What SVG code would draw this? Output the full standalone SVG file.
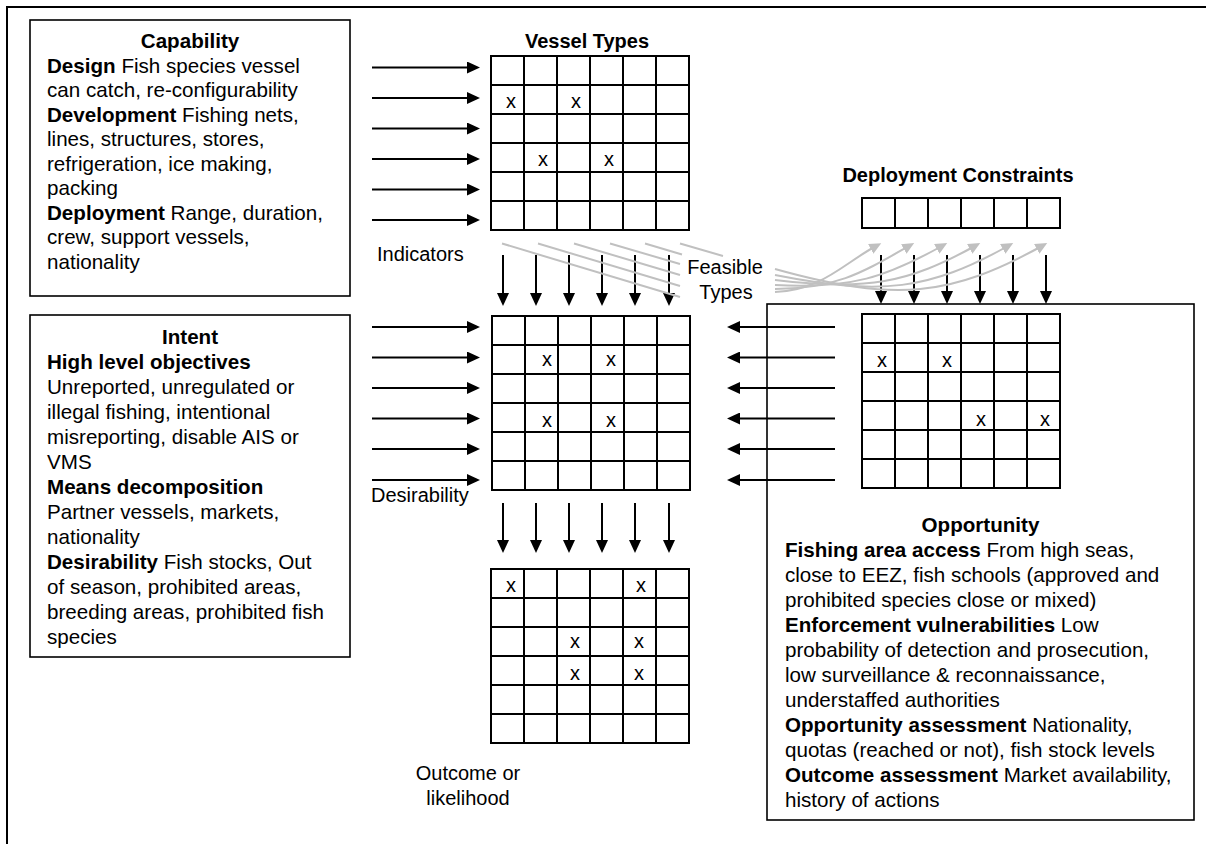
<svg xmlns="http://www.w3.org/2000/svg" width="1206" height="844" viewBox="0 0 1206 844">
<defs>
<style>
text{font-family:"Liberation Sans",Arial,sans-serif;font-size:20px;fill:#000}
.t text{font-size:20.6px}
.b{font-weight:bold}
.c{text-anchor:middle}
.box{fill:#fff;stroke:#000;stroke-width:1.6}
.grid{fill:none;stroke:#000;stroke-width:2}
.arr{fill:none;stroke:#000;stroke-width:2;marker-end:url(#ah)}
.gr{fill:none;stroke:#c0c0c0;stroke-width:2;marker-end:url(#gh)}
</style>
<marker id="ah" markerUnits="userSpaceOnUse" markerWidth="14" markerHeight="12" refX="6" refY="6" orient="auto"><path d="M0,0 L13,6 L0,12 z" fill="#000"/></marker>
<marker id="gh" markerUnits="userSpaceOnUse" markerWidth="13" markerHeight="12" refX="6" refY="5.5" orient="auto"><path d="M0,0 L12,5.5 L0,11 z" fill="#c0c0c0"/></marker>
</defs>
<rect x="7" y="7" width="1230" height="870" fill="none" stroke="#000" stroke-width="2"/>

<g id="capability" class="t">
<rect class="box" x="30" y="20" width="320" height="276"/>
<text class="b c" x="190" y="48">Capability</text>
<text x="47" y="72.5"><tspan class="b">Design</tspan> Fish species vessel</text>
<text x="47" y="97">can catch, re-configurability</text>
<text x="47" y="121.5"><tspan class="b">Development</tspan> Fishing nets,</text>
<text x="47" y="146">lines, structures, stores,</text>
<text x="47" y="170.5">refrigeration, ice making,</text>
<text x="47" y="195">packing</text>
<text x="47" y="219.5"><tspan class="b">Deployment</tspan> Range, duration,</text>
<text x="47" y="244">crew, support vessels,</text>
<text x="47" y="268.5">nationality</text>
</g>

<g id="intent" class="t">
<rect class="box" x="30" y="315" width="320" height="342"/>
<text class="b c" x="190" y="344">Intent</text>
<text class="b" x="47" y="369">High level objectives</text>
<text x="47" y="394">Unreported, unregulated or</text>
<text x="47" y="419">illegal fishing, intentional</text>
<text x="47" y="444">misreporting, disable AIS or</text>
<text x="47" y="469">VMS</text>
<text class="b" x="47" y="494">Means decomposition</text>
<text x="47" y="519">Partner vessels, markets,</text>
<text x="47" y="544">nationality</text>
<text x="47" y="569"><tspan class="b">Desirability</tspan> Fish stocks, Out</text>
<text x="47" y="594">of season, prohibited areas,</text>
<text x="47" y="619">breeding areas, prohibited fish</text>
<text x="47" y="644">species</text>
</g>

<g id="opportunity" class="t">
<rect class="box" x="767" y="304" width="427" height="516"/>
<text class="b c" x="980.5" y="532">Opportunity</text>
<text x="785" y="557"><tspan class="b">Fishing area access</tspan> From high seas,</text>
<text x="785" y="582">close to EEZ, fish schools (approved and</text>
<text x="785" y="607">prohibited species close or mixed)</text>
<text x="785" y="632"><tspan class="b">Enforcement vulnerabilities</tspan> Low</text>
<text x="785" y="657">probability of detection and prosecution,</text>
<text x="785" y="682">low surveillance &amp; reconnaissance,</text>
<text x="785" y="707">understaffed authorities</text>
<text x="785" y="732"><tspan class="b">Opportunity assessment</tspan> Nationality,</text>
<text x="785" y="757">quotas (reached or not), fish stock levels</text>
<text x="785" y="782"><tspan class="b">Outcome assessment</tspan> Market availability,</text>
<text x="785" y="807">history of actions</text>
</g>

<g id="vessel-types">
<text class="b c" x="587" y="48">Vessel Types</text>
<rect class="grid" x="491" y="56" width="198" height="174"/>
<path class="grid" d="M524,56V230M557,56V230M590,56V230M623,56V230M656,56V230M491,85H689M491,114H689M491,143H689M491,172H689M491,201H689"/>
<text class="c" x="511" y="108">x</text>
<text class="c" x="576" y="108">x</text>
<text class="c" x="543" y="166">x</text>
<text class="c" x="609" y="166">x</text>
</g>

<g id="desirability-grid">
<rect class="grid" x="492" y="316" width="198" height="174"/>
<path class="grid" d="M525,316V490M558,316V490M591,316V490M624,316V490M657,316V490M492,345H690M492,374H690M492,403H690M492,432H690M492,461H690"/>
<text class="c" x="547" y="366">x</text>
<text class="c" x="611" y="366">x</text>
<text class="c" x="547" y="427">x</text>
<text class="c" x="611" y="427">x</text>
</g>

<g id="outcome-grid">
<rect class="grid" x="491" y="569" width="198" height="174"/>
<path class="grid" d="M524,569V743M557,569V743M590,569V743M623,569V743M656,569V743M491,598H689M491,627H689M491,656H689M491,685H689M491,714H689"/>
<text class="c" x="511" y="592">x</text>
<text class="c" x="641" y="592">x</text>
<text class="c" x="575" y="648">x</text>
<text class="c" x="639" y="648">x</text>
<text class="c" x="575" y="680">x</text>
<text class="c" x="639" y="680">x</text>
</g>

<g id="opportunity-grid">
<rect class="grid" x="862" y="314" width="198" height="174"/>
<path class="grid" d="M895,314V488M928,314V488M961,314V488M994,314V488M1027,314V488M862,343H1060M862,372H1060M862,401H1060M862,430H1060M862,459H1060"/>
<text class="c" x="882" y="367">x</text>
<text class="c" x="947" y="367">x</text>
<text class="c" x="981" y="426">x</text>
<text class="c" x="1045" y="426">x</text>
</g>

<g id="deployment-constraints">
<text class="b c" x="958" y="182">Deployment Constraints</text>
<rect class="grid" x="862" y="198" width="198" height="30"/>
<path class="grid" d="M895,198V228M928,198V228M961,198V228M994,198V228M1027,198V228"/>
</g>

<g id="labels">
<text x="377" y="261">Indicators</text>
<text x="371" y="502">Desirability</text>
<text class="c" x="725" y="274">Feasible</text>
<text class="c" x="726" y="299">Types</text>
<text class="c" x="468" y="780">Outcome or</text>
<text class="c" x="468" y="805">likelihood</text>
</g>

<g id="connectors">
<path class="arr" d="M372,67.5H473"/><path class="arr" d="M372,98H473"/><path class="arr" d="M372,128.5H473"/><path class="arr" d="M372,159H473"/><path class="arr" d="M372,189.5H473"/><path class="arr" d="M372,220H473"/>
<path class="arr" d="M372,327H473"/><path class="arr" d="M372,357.5H473"/><path class="arr" d="M372,388H473"/><path class="arr" d="M372,418.5H473"/><path class="arr" d="M372,449H473"/><path class="arr" d="M372,480H473"/>
<path class="arr" d="M835,327H734"/><path class="arr" d="M835,357.5H734"/><path class="arr" d="M835,388H734"/><path class="arr" d="M835,418.5H734"/><path class="arr" d="M835,449H734"/><path class="arr" d="M835,480H734"/>
<path class="arr" d="M503,255V299"/><path class="arr" d="M536,255V299"/><path class="arr" d="M569,255V299"/><path class="arr" d="M602,255V299"/><path class="arr" d="M635,255V299"/><path class="arr" d="M669,255V299"/>
<path class="arr" d="M503,503V546"/><path class="arr" d="M536,503V546"/><path class="arr" d="M569,503V546"/><path class="arr" d="M602,503V546"/><path class="arr" d="M635,503V546"/><path class="arr" d="M669,503V546"/>
<path class="arr" d="M881,255V297"/><path class="arr" d="M914,255V297"/><path class="arr" d="M947,255V297"/><path class="arr" d="M980,255V297"/><path class="arr" d="M1013,255V297"/><path class="arr" d="M1046,255V297"/>
<path class="gr" d="M502,243.5L680,297M775,292C822,290 843,264 876,246"/>
<path class="gr" d="M538,243.5L680,286M775,289C837,289 865,271 909,246"/>
<path class="gr" d="M574,243.5L680,275M775,285C852,289 886,277 942,246"/>
<path class="gr" d="M610,243.5L680,264M775,280C867,291 908,283 975,246"/>
<path class="gr" d="M645,243.5L682,254.5M775,275C882,296 929,290 1008,246"/>
<path class="gr" d="M680,243.5L723,256M775,269C897,303 951,296 1042,246"/>
</g>
</svg>
